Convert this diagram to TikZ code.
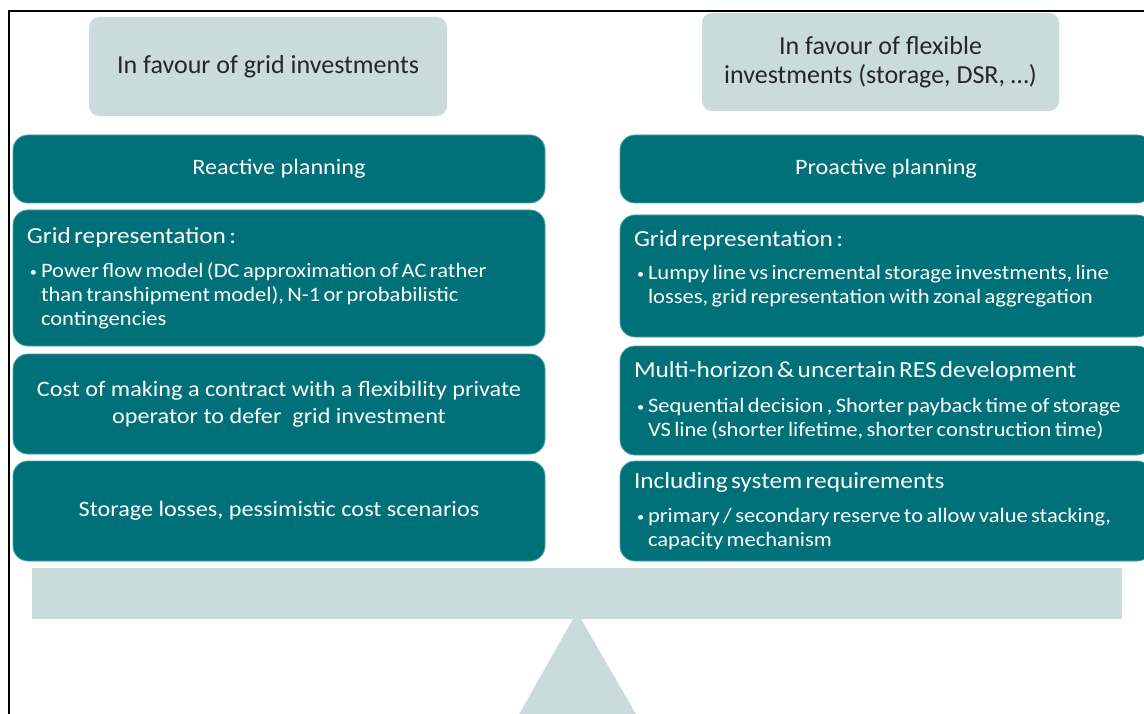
\documentclass[tikz,border=0pt]{standalone}
\usepackage{fontspec}
\setmainfont{Carlito}
\newfontfamily\widefont{Carlito}[FakeStretch=1.1]
\definecolor{tealbox}{RGB}{0,112,121}
\definecolor{tealedge}{RGB}{70,165,170}
\definecolor{greybox}{RGB}{201,220,219}
\newcommand{\hdr}[1]{{\fontsize{23}{27}\selectfont #1\par}}
\newcommand{\bul}[1]{{\fontsize{20.5}{24}\selectfont\leftskip=3pt\hangindent=11pt\hangafter=1\noindent
  \makebox[11pt][l]{\raisebox{1pt}{\fontsize{13}{13}\selectfont\textbullet}}#1\par}}
\begin{document}
\begin{tikzpicture}[x=1pt, y=-1pt,
    side/.style={fill=greybox, rounded corners=10pt, text=black!85,
      font=\fontsize{26}{29}\selectfont, align=center},
    tealshape/.style={fill=tealbox, draw=tealedge, line width=0.8pt,
      rounded corners=15pt, text=white, minimum width=532pt},
    panel/.style={tealshape, inner xsep=14pt, text width=504pt,
      font=\widefont},
    title/.style={tealshape, align=center,
      font=\widefont\fontsize{22}{27}\selectfont},
    plank/.style={fill=greybox, inner sep=0pt}]
  \useasboundingbox (0,0) rectangle (1144,714);
  \clip (0,0) rectangle (1144,714);
  \draw[line width=2pt] (9,716) -- (9,11) -- (1146,11);
  % the two sides of the scale
  \node[side, minimum width=358pt, minimum height=99pt] (gridside) at (268,66.5)
    {In favour of grid investments};
  \node[side, minimum width=357pt, minimum height=98pt] (flexside) at (880.5,62)
    {In favour of flexible\\investments (storage, DSR, \dots)};
  % left column
  \node[title, minimum height=68pt] (reactive) at (279,169) {Reactive planning};
  \node[panel, minimum height=136pt] (lgrid) at (279,278)
    {\hdr{Grid representation :}\vspace{10pt}
     \bul{Power flow model (DC approximation of AC rather\newline than transhipment model), N-1 or probabilistic\newline contingencies}};
  \node[title, minimum height=100pt] (contract) at (279,404)
    {Cost of making a contract with a flexibility private\\operator to defer\ \ grid investment};
  \node[title, minimum height=100pt] (losses) at (279,511)
    {Storage losses, pessimistic cost scenarios};
  % right column
  \node[title, minimum height=68pt] (proactive) at (886,169) {Proactive planning};
  \node[panel, minimum height=122pt] (rgrid) at (886,276)
    {\hdr{Grid representation :}\vspace{9pt}
     \bul{Lumpy line vs incremental storage investments, line\newline losses, grid representation with zonal aggregation}\vspace{14pt}};
  \node[panel, minimum height=109pt] (horizon) at (886,400.5)
    {\hdr{Multi-horizon \& uncertain RES development}\vspace{11pt}
     \bul{Sequential decision\ , Shorter payback time of storage\newline VS line (shorter lifetime, shorter construction time)}};
  \node[panel, minimum height=100pt] (system) at (886,511)
    {\hdr{Including system requirements}\vspace{10pt}
     \bul{primary / secondary reserve to allow value stacking,\newline capacity mechanism}};
  % balance
  \node[plank, minimum width=1090pt, minimum height=51pt] (beam) at (577,593.5) {};
  \coordinate (apex) at (577,612);
  \fill[greybox] (apex) -- (518,716) -- (637,716) -- cycle;
\end{tikzpicture}
\end{document}
